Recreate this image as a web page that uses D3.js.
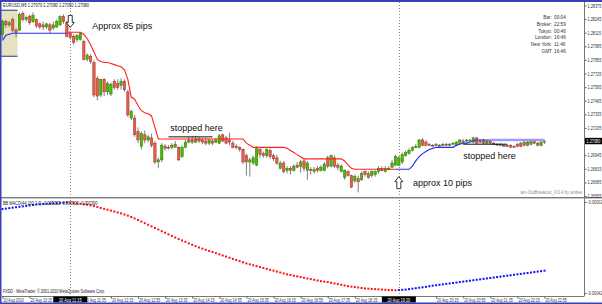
<!DOCTYPE html>
<html><head><meta charset="utf-8">
<script src="https://cdn.jsdelivr.net/npm/d3@7"></script>
<style>html,body{margin:0;padding:0;background:#fff;overflow:hidden}svg{display:block}text{font-family:"Liberation Sans",Arial,sans-serif}</style>
</head><body>
<svg id="c" width="602" height="304"></svg>
<script>
// ---------- data ----------
const symbol = "EURUSD,M5";
const dayLabel = "20 Aug";
const firstDateLabel = "20 Aug 2010";
const firstBarMinutes = 9 * 60 + 35; // 09:35, M5 bars
const barMinutes = 5;

const opens = [1.2810,1.2822,1.2819,1.2824,1.2814,1.2814,1.2830,1.2824,1.2827,1.2822,
1.2824,1.2820,1.2819,1.2817,1.2819,1.2816,1.2817,1.2819,1.2827,1.2821,
1.2811,1.2808,1.2805,1.2805,1.2803,1.2786,1.2789,1.2783,1.2768,1.2752,
1.2767,1.2755,1.2753,1.2765,1.2763,1.2761,1.2765,1.2755,1.2730,1.2730,
1.2717,1.2703,1.2714,1.2709,1.2711,1.2706,1.2688,1.2690,1.2703,1.2701,
1.2704,1.2702,1.2702,1.2693,1.2702,1.2707,1.2709,1.2707,1.2710,1.2709,
1.2708,1.2706,1.2708,1.2707,1.2706,1.2714,1.2711,1.2709,1.2706,1.2703,
1.2702,1.2700,1.2694,1.2688,1.2687,1.2685,1.2700,1.2696,1.2694,1.2699,
1.2694,1.2692,1.2682,1.2687,1.2680,1.2682,1.2680,1.2685,1.2684,1.2689,
1.2680,1.2681,1.2679,1.2682,1.2680,1.2680,1.2692,1.2684,1.2692,1.2685,
1.2679,1.2673,1.2679,1.2675,1.2670,1.2672,1.2671,1.2679,1.2677,1.2675,
1.2676,1.2679,1.2682,1.2679,1.2681,1.2683,1.2685,1.2685,1.2688,1.2694,
1.2696,1.2699,1.2702,1.2702,1.2709,1.2707,1.2705,1.2704,1.2705,1.2704,
1.2704,1.2705,1.2704,1.2705,1.2704,1.2706,1.2708,1.2708,1.2708,1.2707,
1.2711,1.2708,1.2709,1.2706,1.2708,1.2706,1.2705,1.2705,1.2704,1.2704,
1.2704,1.2703,1.2705,1.2706,1.2704,1.2707,1.2705,1.2708,1.2706,1.2704,1.2707];
const highs = [1.2824,1.2824,1.2823,1.2826,1.2816,1.2831,1.2832,1.2828,1.2829,1.2831,
1.2825,1.2821,1.2822,1.2821,1.2821,1.2822,1.2824,1.2828,1.2829,1.2823,
1.2813,1.2810,1.2810,1.2812,1.2805,1.2792,1.2791,1.2785,1.2770,1.2767,
1.2768,1.2765,1.2764,1.2767,1.2767,1.2768,1.2767,1.2757,1.2738,1.2733,
1.2721,1.2717,1.2718,1.2714,1.2715,1.2708,1.2692,1.2706,1.2705,1.2704,
1.2706,1.2708,1.2703,1.2704,1.2709,1.2712,1.2713,1.2713,1.2712,1.2711,
1.2711,1.2710,1.2710,1.2711,1.2715,1.2715,1.2713,1.2716,1.2708,1.2705,
1.2703,1.2701,1.2696,1.2692,1.2694,1.2703,1.2702,1.2698,1.2701,1.2701,
1.2696,1.2695,1.2689,1.2689,1.2684,1.2684,1.2686,1.2688,1.2690,1.2691,
1.2689,1.2683,1.2683,1.2684,1.2685,1.2688,1.2694,1.2695,1.2694,1.2687,
1.2686,1.2681,1.2680,1.2676,1.2676,1.2675,1.2679,1.2680,1.2679,1.2680,
1.2680,1.2684,1.2684,1.2684,1.2684,1.2690,1.2695,1.2694,1.2697,1.2699,
1.2701,1.2703,1.2705,1.2710,1.2711,1.2709,1.2706,1.2705,1.2706,1.2705,
1.2706,1.2706,1.2706,1.2707,1.2708,1.2710,1.2710,1.2710,1.2710,1.2712,
1.2712,1.2710,1.2710,1.2709,1.2709,1.2707,1.2706,1.2706,1.2705,1.2705,
1.2705,1.2704,1.2706,1.2707,1.2708,1.2708,1.2709,1.2710,1.2707,1.2708,1.2708];
const lows = [1.2805,1.2816,1.2817,1.2812,1.2807,1.2813,1.2822,1.2822,1.2819,1.2821,
1.2816,1.2815,1.2814,1.2815,1.2811,1.2814,1.2816,1.2818,1.2820,1.2807,
1.2805,1.2800,1.2803,1.2804,1.2785,1.2784,1.2782,1.2750,1.2747,1.2750,
1.2751,1.2752,1.2751,1.2757,1.2757,1.2757,1.2755,1.2731,1.2728,1.2712,
1.2706,1.2700,1.2706,1.2707,1.2702,1.2686,1.2682,1.2688,1.2699,1.2700,
1.2700,1.2702,1.2689,1.2692,1.2701,1.2706,1.2705,1.2706,1.2706,1.2705,
1.2704,1.2704,1.2704,1.2706,1.2705,1.2707,1.2705,1.2704,1.2701,1.2700,
1.2698,1.2686,1.2675,1.2674,1.2685,1.2684,1.2692,1.2692,1.2692,1.2691,
1.2689,1.2685,1.2681,1.2677,1.2677,1.2676,1.2679,1.2682,1.2678,1.2679,
1.2671,1.2676,1.2677,1.2678,1.2679,1.2679,1.2682,1.2683,1.2682,1.2680,
1.2678,1.2671,1.2674,1.2663,1.2668,1.2659,1.2670,1.2674,1.2672,1.2673,
1.2674,1.2677,1.2679,1.2678,1.2680,1.2682,1.2684,1.2684,1.2686,1.2693,
1.2695,1.2698,1.2701,1.2701,1.2703,1.2703,1.2703,1.2703,1.2703,1.2703,
1.2703,1.2703,1.2703,1.2704,1.2703,1.2705,1.2706,1.2707,1.2707,1.2706,
1.2705,1.2706,1.2705,1.2705,1.2705,1.2704,1.2704,1.2703,1.2703,1.2702,
1.2702,1.2702,1.2702,1.2702,1.2703,1.2703,1.2704,1.2705,1.2703,1.2703,1.2705];
const closes = [1.2822,1.2819,1.2821,1.2814,1.2812,1.2829,1.2824,1.2826,1.2821,1.2828,
1.2818,1.2817,1.2817,1.2820,1.2814,1.2819,1.2822,1.2827,1.2822,1.2808,
1.2807,1.2802,1.2809,1.2811,1.2786,1.2790,1.2784,1.2752,1.2751,1.2767,
1.2755,1.2763,1.2762,1.2759,1.2759,1.2765,1.2757,1.2733,1.2736,1.2714,
1.2709,1.2715,1.2709,1.2712,1.2704,1.2688,1.2690,1.2704,1.2701,1.2702,
1.2702,1.2705,1.2690,1.2702,1.2707,1.2709,1.2707,1.2710,1.2708,1.2707,
1.2706,1.2709,1.2706,1.2709,1.2713,1.2708,1.2706,1.2707,1.2702,1.2702,
1.2700,1.2688,1.2688,1.2690,1.2692,1.2702,1.2695,1.2694,1.2700,1.2693,
1.2691,1.2687,1.2687,1.2679,1.2682,1.2680,1.2684,1.2683,1.2688,1.2682,
1.2687,1.2680,1.2681,1.2680,1.2683,1.2686,1.2684,1.2694,1.2684,1.2683,
1.2684,1.2680,1.2675,1.2664,1.2674,1.2669,1.2677,1.2676,1.2673,1.2679,
1.2679,1.2682,1.2680,1.2682,1.2682,1.2687,1.2693,1.2692,1.2695,1.2697,
1.2699,1.2702,1.2703,1.2709,1.2704,1.2704,1.2704,1.2704,1.2704,1.2704,
1.2705,1.2704,1.2705,1.2706,1.2707,1.2709,1.2707,1.2709,1.2709,1.2711,
1.2706,1.2707,1.2706,1.2708,1.2706,1.2705,1.2705,1.2704,1.2704,1.2703,
1.2702,1.2702,1.2703,1.2703,1.2707,1.2704,1.2708,1.2706,1.2704,1.2707,1.2708];

// OutBreakout trailing lines (start bar index + values)
const blueLine1Start = 0;
const blueLine1 = [1.2804,1.2809,1.2810,1.2811,1.2811,1.2811,1.2811,1.2811,1.2811,1.2811,
1.2811,1.2811,1.2811,1.2811,1.2811,1.2811,1.2811,1.2811,1.2811,1.2811];
const redLineStart = 19;
const redLine = [1.2812,1.2812,1.2812,1.2812,1.2812,1.2810,1.2806,1.2800,1.2793,1.2786,
1.2784,1.2783,1.2783,1.2782,1.2781,1.2780,1.2779,1.2776,1.2767,1.2750,
1.2748,1.2742,1.2737,1.2735,1.2734,1.2732,1.2721,
1.2710,1.2710,1.2710,1.2710,1.2710,1.2710,1.2710,1.2710,1.2710,1.2710,1.2710,1.2710,1.2710,
1.2710,1.2710,1.2710,1.2710,1.2710,1.2710,1.2710,1.2710,1.2710,1.2710,1.2710,1.2710,1.2710,
1.2706,1.2704,1.2702,1.2702,1.2702,1.2702,1.2702,1.2702,1.2702,1.2702,1.2702,1.2702,
1.2701,1.2699,1.2697,1.2695,1.2693,
1.2691,1.2691,1.2691,1.2691,1.2691,1.2691,1.2691,1.2691,1.2691,1.2691,1.2691,1.2691,
1.2689,1.2685,1.2682,
1.2681,1.2681,1.2681,1.2681,1.2681,1.2681,1.2681,1.2681,1.2681,1.2681,1.2681,1.2681,1.2681];
const blueLine2Start = 116;
const blueLine2 = [1.2681,1.2681,1.2681,1.2681,1.2681,1.2684,1.2689,1.2693,1.2696,1.2698,
1.2700,1.2701,1.2702,1.2702,1.2702,1.2702,1.2702,1.2702,1.2704,1.2705,
1.2706,1.2706,1.2707,1.2708,1.2709,1.2709,1.2709,1.2709,1.2709,1.2709,
1.2709,1.2709,1.2709,1.2709,1.2709,1.2709,1.2709,1.2709,1.2709,1.2709,
1.2709,1.2709,1.2709,1.2709,1.2709];

// BB MACD sub-window values (in 1e-5 units)
const macd = [-5.1,-4.9,-4.7,-4.5,-4.3,-4.1,-3.9,-3.7,-3.5,-3.3,-3.1,-3.0,-2.9,-2.8,-2.7,-2.6,-2.5,-2.4,-2.3,-2.2,
-2.3,-2.4,-2.6,-2.8,-3.0,-3.2,-3.5,-3.8,-4.2,-4.6,-5.0,-5.4,-5.8,-6.2,-6.6,-7.0,-7.5,-8.0,-8.6,-9.2,
-9.9,-10.6,-11.3,-12.0,-12.7,-13.4,-14.1,-14.8,-15.5,-16.2,-16.9,-17.6,-18.3,-18.9,-19.5,
-20.2,-20.8,-21.4,-22.0,-22.5,-23.0,-23.5,-24.0,-24.5,-25.0,-25.5,-26.0,-26.5,-27.0,-27.5,-28.0,-28.5,-29.0,-29.4,-29.8,
-30.2,-30.6,-31.0,-31.4,-31.8,-32.2,-32.6,-33.0,-33.4,-33.8,-34.1,-34.4,-34.7,-35.0,-35.3,-35.6,-35.9,-36.2,-36.5,-36.8,
-37.0,-37.2,-37.5,-37.8,-38.1,-38.4,
-38.7,-39.0,-39.2,-39.4,-39.6,-39.8,-40.0,-40.1,-40.2,-40.3,-40.4,-40.5,-40.6,-40.7,-40.75,-40.8,
-40.7,-40.6,-40.5,-40.3,-40.1,-39.9,-39.7,-39.5,-39.3,-39.0,-38.8,-38.6,-38.4,-38.2,-38.0,-37.8,-37.6,-37.4,-37.2,-37.0,
-36.8,-36.6,-36.4,-36.2,-36.0,-35.8,-35.6,-35.4,-35.2,-35.0,-34.8,-34.6,-34.4,-34.2,-34.0,-33.8,-33.6,-33.4,-33.2,-33.0,
-32.8,-32.6,-32.4,-32.2];
const macdScale = [-42, -2];
const macdTitle = "BB MACD(44,100,2.0) -0.000322 -0.000322 -0.000390";

const priceTicks = [1.28375,1.28245,1.28115,1.27985,1.27855,1.27725,1.27595,1.27465,1.27335,1.27205,1.26945,1.26815,1.26685,1.26555];
const timeTickEvery = 8;

const sessionBox = {from: 0, to: 4, high: 1.2833, low: 1.2789};
const vLineBars = [20, 117];
const stopMarks = [{from: 49, to: 62, price: 1.2712}, {from: 136, to: 149, price: 1.2705}];
const levelLine = {from: 144, to: 160, price: 1.2709};
const arrows = [{bar: 20, price: 1.2828, dir: "down"}, {bar: 117, price: 1.2674, dir: "up"}];
const notes = [
  {text: "Approx 85 pips", bar: 26.5, price: 1.2815},
  {text: "stopped here", bar: 49.5, price: 1.2718},
  {text: "stopped here", bar: 136, price: 1.2691},
  {text: "approx 10 pips", bar: 121.2, price: 1.2665}
];
const infoLabels = ["Bar:", "Broker:", "Tokyo:", "London:", "New York:", "GMT"];
const infoValues = ["00:04", "22:59", "00:46", "16:46", "11:46", "16:46"];
const indicatorCredit = "am-OutBreakout_V.0.4 by andee";
const copyright = "FXDD - MetaTrader, \u00a9 2001-2010 MetaQuotes Software Corp.";

// ---------- drawing ----------
const svg = d3.select("#c");
const n = opens.length;
const plotL = 2, plotR = 584, mainT = 2, mainB = 197, subT = 199, subB = 296;
const x = d3.scaleLinear().domain([0, n - 1]).range([2.5, 544.5]);
const y = d3.scaleLinear().domain([1.26555, 1.28375]).range([196, 5.5]);
const ym = d3.scaleLinear().domain(macdScale).range([293, 202]);
const fmtP = d3.format(".5f");
const hhmm = i => { const m = firstBarMinutes + barMinutes * i; return String(Math.floor(m / 60)).padStart(2, "0") + ":" + String(m % 60).padStart(2, "0"); };

svg.append("rect").attr("width", 602).attr("height", 304).attr("fill", "#fff");

// session box
svg.append("rect").attr("x", x(sessionBox.from) - 3).attr("y", y(sessionBox.high))
  .attr("width", x(sessionBox.to) - x(sessionBox.from) + 4.5).attr("height", y(sessionBox.low) - y(sessionBox.high))
  .attr("fill", "#e6e2bf");
[sessionBox.high, sessionBox.low].forEach(p => svg.append("line").attr("x1", x(sessionBox.from) - 3).attr("x2", x(sessionBox.to) + 1.5)
  .attr("y1", y(p)).attr("y2", y(p)).attr("stroke", "#303090").attr("stroke-width", 1));

// vertical dotted lines
vLineBars.forEach(b => svg.append("line").attr("x1", Math.round(x(b)) + .5).attr("x2", Math.round(x(b)) + .5).attr("y1", mainT).attr("y2", subB)
  .attr("stroke", "#888").attr("stroke-dasharray", "1,2"));

// candles
const bars = d3.range(n).map(i => ({i, o: opens[i], h: highs[i], l: lows[i], c: closes[i]}));
const gC = svg.append("g");
gC.selectAll("line").data(bars).join("line")
  .attr("x1", d => x(d.i)).attr("x2", d => x(d.i)).attr("y1", d => y(d.h)).attr("y2", d => y(d.l))
  .attr("stroke", "#707070").attr("stroke-width", 0.9);
gC.selectAll("rect").data(bars).join("rect")
  .attr("x", d => x(d.i) - 1.2).attr("width", 2.4)
  .attr("y", d => y(Math.max(d.o, d.c))).attr("height", d => Math.max(0.9, Math.abs(y(d.o) - y(d.c))))
  .attr("fill", d => d.c > d.o ? "#4cbc00" : d.c < d.o ? "#e5604c" : "#404040")
  .attr("stroke", d => d.c > d.o ? "#2f7400" : d.c < d.o ? "#9c3426" : "#404040").attr("stroke-width", 0.5);

// indicator lines
const line = d3.line().x(d => x(d.i)).y(d => y(d.v));
const mk = (start, arr) => arr.map((v, k) => ({i: start + k, v}));
svg.append("path").attr("d", line(mk(blueLine1Start, blueLine1))).attr("fill", "none").attr("stroke", "#2828ff").attr("stroke-width", 1.1);
svg.append("path").attr("d", line(mk(redLineStart, redLine))).attr("fill", "none").attr("stroke", "#ff2020").attr("stroke-width", 1.1);
svg.append("path").attr("d", line(mk(blueLine2Start, blueLine2))).attr("fill", "none").attr("stroke", "#2828ff").attr("stroke-width", 1.1);
svg.append("line").attr("x1", x(levelLine.from)).attr("x2", x(levelLine.to)).attr("y1", y(levelLine.price)).attr("y2", y(levelLine.price))
  .attr("stroke", "#9c9cff").attr("stroke-width", 2.5).attr("opacity", 0.9);
stopMarks.forEach(s => svg.append("line").attr("x1", x(s.from)).attr("x2", x(s.to)).attr("y1", y(s.price)).attr("y2", y(s.price))
  .attr("stroke", "#111").attr("stroke-width", 1));

// arrows
arrows.forEach(a => {
  const ax = x(a.bar), ay = y(a.price);
  const up = "M0,0 L4,5 L2,5 L2,12 L-2,12 L-2,5 L-4,5 Z";
  const down = "M-2,0 L2,0 L2,7 L4,7 L0,12 L-4,7 L-2,7 Z";
  svg.append("path").attr("d", a.dir === "up" ? up : down).attr("transform", `translate(${ax},${ay})`)
    .attr("fill", "#fff").attr("stroke", "#222").attr("stroke-width", 0.9);
});

// annotation notes
notes.forEach(t => svg.append("text").attr("x", x(t.bar)).attr("y", y(t.price)).attr("font-size", 9).attr("fill", "#111").text(t.text));

// small text helper
function small(str, tx, ty, size, sx, fill, anchor) {
  return svg.append("text").attr("transform", `translate(${tx},${ty}) scale(${sx},1)`)
    .attr("font-size", size).attr("fill", fill || "#222").attr("text-anchor", anchor || "start").text(str);
}
const last = n - 1;
small(`${symbol}  ${fmtP(opens[last])} ${fmtP(highs[last])} ${fmtP(lows[last])} ${fmtP(closes[last])}`, 3, 7.3, 5.3, 0.76, "#222");
infoLabels.forEach((l, k) => {
  small(l, 552, 19.3 + k * 6.7, 5, 0.95, "#333", "end");
  small(infoValues[k], 554, 19.3 + k * 6.7, 5, 0.95, "#333");
});
small(indicatorCredit, 582, 193.5, 5, 0.85, "#8a8aa8", "end");

// MACD sub window
const gm = svg.append("g");
gm.selectAll("rect").data(macd.map((v, i) => ({i, v}))).join("rect")
  .attr("x", d => x(d.i) - 1).attr("y", d => ym(d.v) - 1).attr("width", 2).attr("height", 2)
  .attr("fill", (d) => (d.i === 0 || d.v >= macd[d.i - 1]) ? "#1010ff" : "#ff1010");
small(macdTitle, 3, 204.5, 5, 0.78, "#222");
small(copyright, 3, 292.7, 5, 0.74, "#222");

// separators and axes
svg.append("line").attr("x1", 0).attr("x2", 602).attr("y1", 197.5).attr("y2", 197.5).attr("stroke", "#7a7a7a");
svg.append("line").attr("x1", 0).attr("x2", 602).attr("y1", 198.5).attr("y2", 198.5).attr("stroke", "#c8c8c8");

function styleRightAxis(g) {
  g.select(".domain").remove();
  g.selectAll("line").attr("stroke", "#555");
  g.selectAll("text").attr("font-size", 4.8).attr("fill", "#333").attr("font-family", "Liberation Sans, Arial")
    .attr("x", 0).attr("transform", "translate(3,0) scale(0.8,1)");
}
const ya = svg.append("g").attr("transform", `translate(${plotR + .5},0)`)
  .call(d3.axisRight(y).tickValues(priceTicks).tickFormat(fmtP).tickSize(2).tickPadding(1));
styleRightAxis(ya);
const ma = svg.append("g").attr("transform", `translate(${plotR + .5},0)`)
  .call(d3.axisRight(ym).tickValues(macdScale.slice().reverse()).tickFormat(v => (v * 1e-5).toFixed(5)).tickSize(2).tickPadding(1));
styleRightAxis(ma);
svg.append("line").attr("x1", plotR + .5).attr("x2", plotR + .5).attr("y1", mainT).attr("y2", subB + .5).attr("stroke", "#777");

// current price label
const cp = y(closes[last]);
svg.append("rect").attr("x", plotR + 1).attr("y", cp - 3.2).attr("width", 17).attr("height", 6.4).attr("fill", "#000");
small(fmtP(closes[last]), plotR + 2.5, cp + 1.8, 4.8, 0.8, "#fff");

// time axis (labels hidden under the vertical-line time boxes are skipped)
const boxHalf = 17;
const tickBars = d3.range(0, n, timeTickEvery)
  .filter(i => !vLineBars.some(b => x(i) > x(b) - boxHalf - 1 && x(i) < x(b) + boxHalf - 6));
const xa = svg.append("g").attr("transform", `translate(0,${subB + .5})`)
  .call(d3.axisBottom(x).tickValues(tickBars).tickFormat(i => i === 0 ? firstDateLabel : `${dayLabel} ${hhmm(i)}`).tickSize(2).tickPadding(0));
xa.select(".domain").attr("stroke", "#777").attr("d", `M${plotL},0H${plotR}`);
xa.selectAll("line").attr("stroke", "#555");
xa.selectAll("text").attr("font-size", 5.2).attr("fill", "#333").attr("text-anchor", "start")
  .attr("transform", "translate(0.5,0) scale(0.7,1)").attr("y", 5.2).attr("dy", 0).attr("font-family", "Liberation Sans, Arial");
vLineBars.forEach(b => {
  const cx = x(b);
  svg.append("rect").attr("x", cx - boxHalf).attr("y", subB + .5).attr("width", boxHalf * 2).attr("height", 6).attr("fill", "#000");
  small(`${dayLabel} ${hhmm(b)}`, cx, subB + 5.5, 5.2, 0.75, "#fff", "middle");
});

// window frame
svg.append("rect").attr("x", 0).attr("y", 0).attr("width", 602).attr("height", 2).attr("fill", "#3b3fb8");
svg.append("rect").attr("x", 0).attr("y", 0).attr("width", 1.5).attr("height", 304).attr("fill", "#3b3fb8");
svg.append("rect").attr("x", 0).attr("y", 302.5).attr("width", 602).attr("height", 1.5).attr("fill", "#3b3fb8");
</script>
</body></html>
